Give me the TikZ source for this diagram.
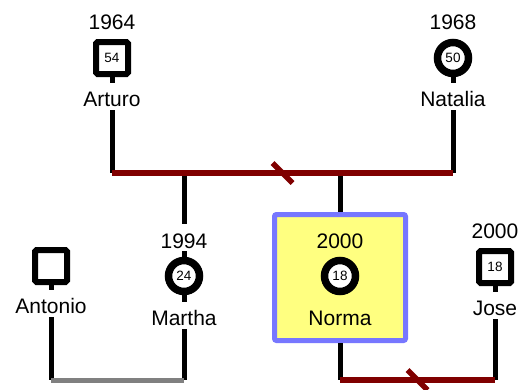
\documentclass[tikz,border=0pt]{standalone}
\usepackage{fontspec}
\setmainfont{Liberation Sans}
\usetikzlibrary{calc}
\definecolor{couplered}{HTML}{800000}
\definecolor{exgray}{HTML}{808080}
\definecolor{focusfill}{HTML}{FFFF80}
\definecolor{focusedge}{HTML}{7777FF}

\begin{document}
\begin{tikzpicture}[x=1pt,y=-1pt,
  lbl/.style={font=\fontsize{21}{25}\selectfont, anchor=base, inner xsep=2pt, text depth=0pt},
  yearlbl/.style={lbl, text height=21pt, inner ysep=3pt},
  namelbl/.style={lbl, text height=19pt, inner ysep=4pt},
  agefont/.style={font=\fontsize{13.5}{15}\selectfont},
  male/.style={draw, line width=6pt, rounded corners=1.5pt, minimum size=32pt, inner sep=0pt, fill=white, agefont},
  female/.style={circle, draw, line width=7.5pt, minimum size=31pt, inner sep=0pt, fill=white, agefont},
  focusbox/.style={draw=focusedge, fill=focusfill, line width=5pt, rounded corners=2pt, minimum width=131pt, minimum height=126pt},
  link/.style={line width=5pt},
  couple/.style={line width=5.5pt, couplered},
  exlink/.style={line width=5pt, exgray},
]
\useasboundingbox (0,0) rectangle (520,389);

% highlighted person
\node[focusbox] (focus) at (340,277.5) {};

% grandparents
\node[yearlbl] (a-year) at (112,29) {1964};
\node[male]    (a-sym)  at (112,58) {54};
\node[namelbl] (a-name) at (112,106) {Arturo};

\node[yearlbl] (n-year) at (453,29) {1968};
\node[female]  (n-sym)  at (453,58) {50};
\node[namelbl] (n-name) at (453,106) {Natalia};

% second generation
\node[male]    (an-sym)  at (51,266) {};
\node[namelbl] (an-name) at (51,313) {Antonio};

\node[yearlbl] (m-year) at (184,248) {1994};
\node[female]  (m-sym)  at (184,276) {24};
\node[namelbl] (m-name) at (184,325) {Martha};

\node[yearlbl] (no-year) at (340,248) {2000};
\node[female]  (no-sym)  at (340,276) {18};
\node[namelbl] (no-name) at (340,325) {Norma};

\node[yearlbl] (j-year) at (495,238) {2000};
\node[male]    (j-sym)  at (495,267) {18};
\node[namelbl] (j-name) at (495,315) {Jose};

% couple line ends and child drops
\coordinate (c1L) at (112,173);
\coordinate (c1R) at (453,173);
\coordinate (c1m) at (184,173);
\coordinate (c1n) at (340,173);
\coordinate (c2L) at (51,380);
\coordinate (c2R) at (184,380);
\coordinate (c3L) at (340,380);
\coordinate (c3R) at (495,380);

% stubs between symbols and labels
\draw[link] (a-sym) -- (a-name);
\draw[link] (n-sym) -- (n-name);
\draw[link] (an-sym) -- (an-name);
\draw[link] (m-year) -- (m-sym);
\draw[link] (m-sym) -- (m-name);
\draw[link] (j-sym) -- (j-name);

% vertical connectors
\draw[link] (a-name.south) -- (c1L);
\draw[link] (n-name.south) -- (c1R);
\draw[link] (c1m) -- (m-year.north);
\draw[link] (c1n) -- (focus.north);
\draw[link] (an-name.south) -- (c2L);
\draw[link] (m-name.south) -- (c2R);
\draw[link] (focus.south) -- (c3L);
\draw[link] (j-name.south) -- (c3R);

% couple lines
\draw[couple] (c1L) -- (c1R);
\draw[couple] ($(c1L)!0.5!(c1R)+(-10,-10)$) -- ($(c1L)!0.5!(c1R)+(10,10)$);
\draw[exlink] (c2L) -- (c2R);
\draw[couple] (c3L) -- (c3R);
\draw[couple] ($(c3L)!0.5!(c3R)+(-10,-10)$) -- ($(c3L)!0.5!(c3R)+(10,10)$);
\end{tikzpicture}
\end{document}
